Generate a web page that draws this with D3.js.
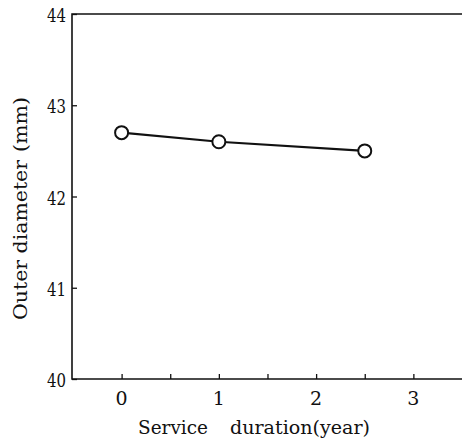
<!DOCTYPE html>
<html>
<head>
<meta charset="utf-8">
<script src="https://cdn.jsdelivr.net/npm/d3@7"></script>
<style>
  html, body { margin: 0; padding: 0; background: #fff; }
  svg { display: block; }
  text { font-family: "DejaVu Serif", serif; fill: #111; }
</style>
</head>
<body>
<svg id="chart" width="462" height="443"></svg>
<script>
// Outer diameter of the part over its service life
const years = [0, 1, 2.5];
const diameters = [42.7, 42.6, 42.5];
const xTicks = [0, 0.5, 1, 1.5, 2, 2.5, 3];
const xTickLabels = [0, 1, 2, 3];
const yTicks = [40, 41, 42, 43, 44];

const svg = d3.select("#chart");
const plotLeft = 72, plotRight = 462, plotTop = 14, plotBottom = 379;
const serif = "DejaVu Serif";

const x = d3.scaleLinear().domain([-0.51, 3.5]).range([plotLeft, plotRight]);
const y = d3.scaleLinear().domain([40, 44]).range([plotBottom, plotTop]);

// Frame: left and top edges plus the bottom axis line
svg.append("path")
  .attr("d", `M${plotRight},${plotTop}H${plotLeft}V${plotBottom}H${plotRight}`)
  .attr("fill", "none").attr("stroke", "#111").attr("stroke-width", 1.6);

// Y axis ticks point inward, labels on the left
const yAxis = d3.axisRight(y).tickValues(yTicks).tickSize(5).tickFormat("");
const gy = svg.append("g").attr("transform", `translate(${plotLeft},0)`).call(yAxis);
gy.select(".domain").remove();
gy.selectAll("line").attr("stroke", "#111").attr("stroke-width", 1.3);
svg.append("g").selectAll("text").data(yTicks).join("text")
  .attr("x", plotLeft - 6).attr("y", d => y(d) + 8)
  .attr("text-anchor", "end").attr("font-size", 19)
  .attr("font-family", serif)
  .attr("textLength", 19).attr("lengthAdjust", "spacingAndGlyphs")
  .text(d => d);

// X axis ticks point upward
const xAxis = d3.axisTop(x).tickValues(xTicks).tickSize(5).tickFormat("");
const gx = svg.append("g").attr("transform", `translate(0,${plotBottom})`).call(xAxis);
gx.select(".domain").remove();
gx.selectAll("line").attr("stroke", "#111").attr("stroke-width", 1.3);
svg.append("g").selectAll("text").data(xTickLabels).join("text")
  .attr("x", d => x(d)).attr("y", plotBottom + 26)
  .attr("text-anchor", "middle").attr("font-size", 19)
  .attr("font-family", serif)
  .text(d => d);

// X axis title, two words with a wide gap
const xTitle = svg.append("g").attr("font-size", 18).attr("font-family", serif);
xTitle.append("text").attr("x", 138).attr("y", 434)
  .attr("textLength", 70).attr("lengthAdjust", "spacingAndGlyphs")
  .text("Service");
xTitle.append("text").attr("x", 230).attr("y", 434)
  .attr("textLength", 140).attr("lengthAdjust", "spacingAndGlyphs")
  .text("duration(year)");

// Y axis title, rotated
const yTitle = svg.append("g").attr("font-size", 18).attr("font-family", serif)
  .attr("transform", "translate(27,0) rotate(-90)");
yTitle.append("text").attr("x", -320).attr("y", 0)
  .attr("textLength", 160).attr("lengthAdjust", "spacingAndGlyphs")
  .text("Outer diameter");
yTitle.append("text").attr("x", -152).attr("y", 0)
  .attr("textLength", 55).attr("lengthAdjust", "spacingAndGlyphs")
  .text("(mm)");

// Data line and markers
const pts = years.map((v, i) => [v, diameters[i]]);
svg.append("path")
  .datum(pts)
  .attr("d", d3.line().x(d => x(d[0])).y(d => y(d[1])))
  .attr("fill", "none").attr("stroke", "#111").attr("stroke-width", 2.2);

svg.append("g").selectAll("circle").data(pts).join("circle")
  .attr("cx", d => x(d[0])).attr("cy", d => y(d[1]))
  .attr("r", 6.5)
  .attr("fill", "#fff").attr("stroke", "#111").attr("stroke-width", 2);
</script>
</body>
</html>
